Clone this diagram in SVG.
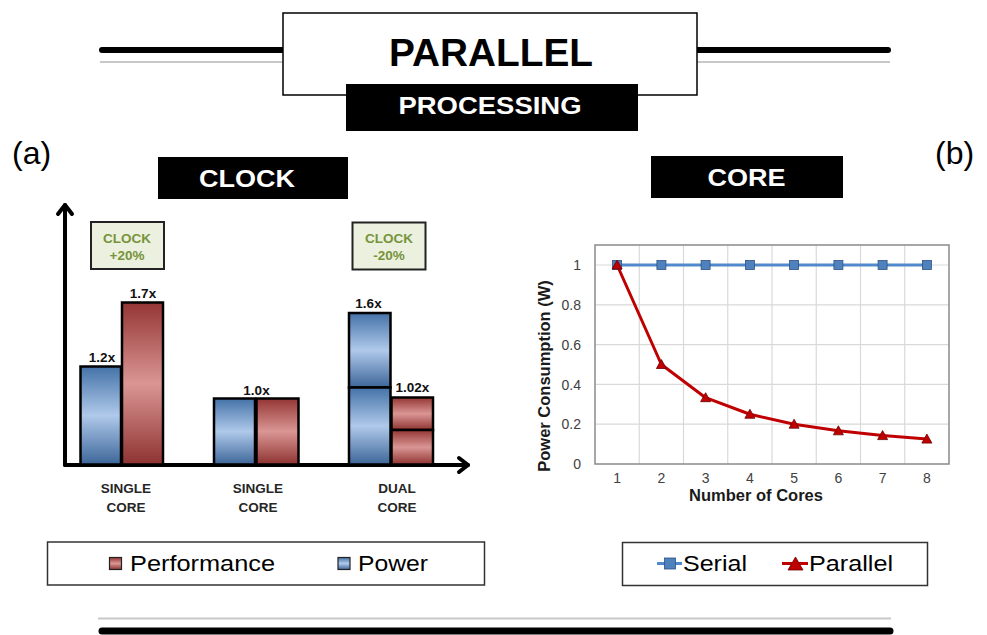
<svg xmlns="http://www.w3.org/2000/svg" width="987" height="635" viewBox="0 0 987 635">
  <style>
    text { font-family: "Liberation Sans", Arial, sans-serif; }
    .b { font-weight: bold; }
    .bar { stroke: #000; stroke-width: 2.5; }
    .rule { stroke: #000; stroke-width: 6; stroke-linecap: round; }
    .rule2 { stroke: #c8c8c8; stroke-width: 2; }
    .grid { stroke: #d9d9d9; stroke-width: 1.2; }
    .tick { font-size: 14px; fill: #404040; }
    .cat { font-size: 13.5px; font-weight: bold; fill: #262626; text-anchor: middle; }
    .val { font-size: 13.5px; font-weight: bold; fill: #111; text-anchor: middle; }
    .note { font-size: 13.5px; font-weight: bold; fill: #77933c; text-anchor: middle; }
    .leg { font-size: 22px; fill: #000; }
    .sq { fill: #4f81bd; stroke: #2c5282; stroke-width: 0.8; }
    .tri { fill: #c00000; stroke: #6b0000; stroke-width: 0.8; }
  </style>
  <defs>
    <linearGradient id="gBlue" x1="0" y1="0" x2="0" y2="1">
      <stop offset="0" stop-color="#4472a8"/>
      <stop offset="0.5" stop-color="#afc9ea"/>
      <stop offset="1" stop-color="#3d6699"/>
    </linearGradient>
    <linearGradient id="gRed" x1="0" y1="0" x2="0" y2="1">
      <stop offset="0" stop-color="#943634"/>
      <stop offset="0.5" stop-color="#da9694"/>
      <stop offset="1" stop-color="#8e3331"/>
    </linearGradient>
  </defs>

  <rect width="987" height="635" fill="#fff"/>

  <!-- title banner -->
  <g id="title">
    <line class="rule" x1="102" y1="50" x2="284" y2="50"/>
    <line class="rule" x1="697" y1="50" x2="888" y2="50"/>
    <line class="rule2" x1="100" y1="62" x2="284" y2="62"/>
    <line class="rule2" x1="697" y1="62" x2="890" y2="62"/>
    <rect x="283" y="13" width="414" height="82" fill="#fff" stroke="#000" stroke-width="1.5"/>
    <text x="491" y="66" class="b" font-size="38" text-anchor="middle" textLength="204" lengthAdjust="spacingAndGlyphs">PARALLEL</text>
    <rect x="346" y="84" width="292" height="47" fill="#000"/>
    <text x="490" y="114" class="b" font-size="23" fill="#fff" text-anchor="middle" textLength="183" lengthAdjust="spacingAndGlyphs">PROCESSING</text>
  </g>

  <!-- panel labels and headers -->
  <g id="label-a"><text x="12" y="164" font-size="32">(a)</text></g>
  <g id="label-b"><text x="935" y="164" font-size="32">(b)</text></g>
  <g id="header-clock">
    <rect x="158" y="157" width="190" height="42" fill="#000"/>
    <text x="247" y="187" class="b" font-size="24" fill="#fff" text-anchor="middle" textLength="96" lengthAdjust="spacingAndGlyphs">CLOCK</text>
  </g>
  <g id="header-core">
    <rect x="651" y="156" width="192" height="42" fill="#000"/>
    <text x="746.5" y="186" class="b" font-size="24" fill="#fff" text-anchor="middle" textLength="78" lengthAdjust="spacingAndGlyphs">CORE</text>
  </g>

  <!-- bar chart axes -->
  <g id="bar-axes" fill="none" stroke="#000" stroke-width="4" stroke-linecap="round" stroke-linejoin="round">
    <line x1="65" y1="465" x2="65" y2="205"/>
    <polyline points="58,214 65,205 72,214"/>
    <line x1="65" y1="465" x2="468" y2="465"/>
    <polyline points="459,458 468,465 459,472"/>
  </g>

  <!-- bar groups -->
  <g id="bars-single-fast">
    <rect class="bar" x="80.5" y="366.5" width="40.5" height="98" fill="url(#gBlue)"/>
    <rect class="bar" x="122" y="302.5" width="41" height="162" fill="url(#gRed)"/>
    <text class="val" x="102" y="362">1.2x</text>
    <text class="val" x="143" y="298">1.7x</text>
  </g>
  <g id="bars-single">
    <rect class="bar" x="214" y="398.5" width="41" height="66" fill="url(#gBlue)"/>
    <rect class="bar" x="256.5" y="398.5" width="42" height="66" fill="url(#gRed)"/>
    <text class="val" x="256.5" y="394.5">1.0x</text>
  </g>
  <g id="bars-dual">
    <rect class="bar" x="349" y="313" width="41.5" height="74.5" fill="url(#gBlue)"/>
    <rect class="bar" x="349" y="387.5" width="41.5" height="77" fill="url(#gBlue)"/>
    <rect class="bar" x="391.5" y="397.5" width="41.5" height="32.5" fill="url(#gRed)"/>
    <rect class="bar" x="391.5" y="430" width="41.5" height="34.5" fill="url(#gRed)"/>
    <text class="val" x="368.5" y="308">1.6x</text>
    <text class="val" x="412.5" y="392">1.02x</text>
  </g>

  <!-- clock change notes -->
  <g id="note-up">
    <rect x="91" y="222" width="73" height="47" fill="#ebf1de" stroke="#222" stroke-width="2"/>
    <text class="note" x="127" y="242.5">CLOCK</text>
    <text class="note" x="127" y="259.5">+20%</text>
  </g>
  <g id="note-down">
    <rect x="352.5" y="222.5" width="73" height="47" fill="#ebf1de" stroke="#222" stroke-width="2"/>
    <text class="note" x="389" y="242.5">CLOCK</text>
    <text class="note" x="389" y="259.5">-20%</text>
  </g>

  <!-- category labels -->
  <g id="cat-labels">
    <text class="cat" x="126" y="493">SINGLE</text>
    <text class="cat" x="126" y="511.5">CORE</text>
    <text class="cat" x="258" y="493">SINGLE</text>
    <text class="cat" x="258" y="511.5">CORE</text>
    <text class="cat" x="397" y="493">DUAL</text>
    <text class="cat" x="397" y="511.5">CORE</text>
  </g>

  <!-- bar legend -->
  <g id="legend-bars">
    <rect x="47.5" y="542" width="437" height="43" fill="#fff" stroke="#333" stroke-width="1.5"/>
    <rect x="109.5" y="557.5" width="12" height="12" fill="url(#gRed)" stroke="#222" stroke-width="1.2"/>
    <text class="leg" x="130" y="571" textLength="145" lengthAdjust="spacingAndGlyphs">Performance</text>
    <rect x="338" y="557.5" width="12" height="12" fill="url(#gBlue)" stroke="#222" stroke-width="1.2"/>
    <text class="leg" x="358" y="571" textLength="70" lengthAdjust="spacingAndGlyphs">Power</text>
  </g>

  <!-- line chart -->
  <g id="line-chart">
    <rect x="595" y="245" width="354" height="219" fill="#fff"/>
    <g class="grid">
      <line x1="595" y1="265" x2="949" y2="265"/>
      <line x1="595" y1="304.8" x2="949" y2="304.8"/>
      <line x1="595" y1="344.6" x2="949" y2="344.6"/>
      <line x1="595" y1="384.4" x2="949" y2="384.4"/>
      <line x1="595" y1="424.2" x2="949" y2="424.2"/>
      <line x1="639.25" y1="245" x2="639.25" y2="464"/>
      <line x1="683.5" y1="245" x2="683.5" y2="464"/>
      <line x1="727.75" y1="245" x2="727.75" y2="464"/>
      <line x1="772" y1="245" x2="772" y2="464"/>
      <line x1="816.25" y1="245" x2="816.25" y2="464"/>
      <line x1="860.5" y1="245" x2="860.5" y2="464"/>
      <line x1="904.75" y1="245" x2="904.75" y2="464"/>
    </g>
    <rect x="595" y="245" width="354" height="219" fill="none" stroke="#8a8a8a" stroke-width="1.5"/>
    <g class="tick" text-anchor="end">
      <text x="581" y="270">1</text>
      <text x="581" y="310">0.8</text>
      <text x="581" y="350">0.6</text>
      <text x="581" y="389.5">0.4</text>
      <text x="581" y="429">0.2</text>
      <text x="581" y="469">0</text>
    </g>
    <g class="tick" text-anchor="middle">
      <text x="617.1" y="482.5">1</text>
      <text x="661.4" y="482.5">2</text>
      <text x="705.6" y="482.5">3</text>
      <text x="749.9" y="482.5">4</text>
      <text x="794.1" y="482.5">5</text>
      <text x="838.4" y="482.5">6</text>
      <text x="882.6" y="482.5">7</text>
      <text x="926.9" y="482.5">8</text>
    </g>
    <text x="756" y="500.5" class="b" font-size="16.5" fill="#1a1a1a" text-anchor="middle">Number of Cores</text>
    <text transform="translate(549.5,376) rotate(-90)" class="b" font-size="16.5" fill="#1a1a1a" text-anchor="middle">Power Consumption (W)</text>

    <!-- series: serial -->
    <polyline fill="none" stroke="#5089cc" stroke-width="2.8" points="617.1,265 661.4,265 705.6,265 749.9,265 794.1,265 838.4,265 882.6,265 926.9,265"/>
    <g id="serial-markers">
      <rect class="sq" x="612.6" y="260.5" width="9" height="9"/>
      <rect class="sq" x="656.9" y="260.5" width="9" height="9"/>
      <rect class="sq" x="701.1" y="260.5" width="9" height="9"/>
      <rect class="sq" x="745.4" y="260.5" width="9" height="9"/>
      <rect class="sq" x="789.6" y="260.5" width="9" height="9"/>
      <rect class="sq" x="833.9" y="260.5" width="9" height="9"/>
      <rect class="sq" x="878.1" y="260.5" width="9" height="9"/>
      <rect class="sq" x="922.4" y="260.5" width="9" height="9"/>
    </g>

    <!-- series: parallel -->
    <polyline fill="none" stroke="#c00000" stroke-width="3" stroke-linejoin="round" points="617.1,265 661.4,364.5 705.6,397.7 749.9,414.25 794.1,424.2 838.4,430.8 882.6,435.6 926.9,439.1"/>
    <g id="parallel-markers">
      <path class="tri" d="M612.1,269 L617.1,260 L622.1,269 Z"/>
      <path class="tri" d="M656.4,368.5 L661.4,359.5 L666.4,368.5 Z"/>
      <path class="tri" d="M700.6,401.7 L705.6,392.7 L710.6,401.7 Z"/>
      <path class="tri" d="M744.9,418.25 L749.9,409.25 L754.9,418.25 Z"/>
      <path class="tri" d="M789.1,428.2 L794.1,419.2 L799.1,428.2 Z"/>
      <path class="tri" d="M833.4,434.8 L838.4,425.8 L843.4,434.8 Z"/>
      <path class="tri" d="M877.6,439.6 L882.6,430.6 L887.6,439.6 Z"/>
      <path class="tri" d="M921.9,443.1 L926.9,434.1 L931.9,443.1 Z"/>
    </g>
  </g>

  <!-- line legend -->
  <g id="legend-lines">
    <rect x="622.5" y="542.5" width="305" height="43" fill="#fff" stroke="#333" stroke-width="1.5"/>
    <line x1="657" y1="563.5" x2="682" y2="563.5" stroke="#5089cc" stroke-width="3"/>
    <rect class="sq" x="664.5" y="558" width="11" height="11"/>
    <text class="leg" x="683" y="571" textLength="64" lengthAdjust="spacingAndGlyphs">Serial</text>
    <line x1="782" y1="563.5" x2="808" y2="563.5" stroke="#c00000" stroke-width="3"/>
    <path class="tri" d="M788,570 L795.5,557 L803,570 Z"/>
    <text class="leg" x="809" y="571" textLength="84" lengthAdjust="spacingAndGlyphs">Parallel</text>
  </g>

  <!-- footer rule -->
  <g id="footer">
    <line class="rule2" x1="98" y1="618.5" x2="891" y2="618.5"/>
    <line stroke="#000" stroke-width="7" stroke-linecap="round" x1="102" y1="631" x2="890" y2="631"/>
  </g>
</svg>
